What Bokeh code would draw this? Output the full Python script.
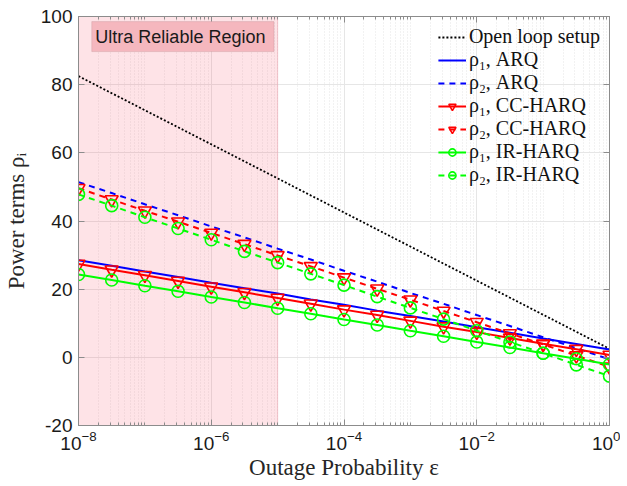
from bokeh.plotting import figure
from bokeh.models import (BoxAnnotation, Label, Legend, LegendItem, LogAxis,
                          LinearAxis, FixedTicker, Range1d)
from bokeh.embed import file_html
from bokeh.resources import INLINE

# ---- data ----
exponents = [-8, -7.5, -7, -6.5, -6, -5.5, -5, -4.5, -4, -3.5, -3, -2.5, -2, -1.5, -1, -0.5, 0]
eps = [10 ** e for e in exponents]

open_loop = [82.5, 77.5, 72.5, 67.5, 62.5, 57.5, 52.5, 47.5, 42.5, 37.5, 32.5, 27.5, 22.5, 17.5, 12.5, 7.5, 2.5]
rho1_arq = [28.5, 26.9, 25.2, 23.6, 21.9, 20.3, 18.7, 17.0, 15.4, 13.7, 12.1, 10.5, 8.8, 7.2, 5.5, 3.9, 2.3]
rho2_arq = [51.4, 48.2, 44.9, 41.7, 38.4, 35.2, 31.9, 28.7, 25.4, 22.2, 18.9, 15.7, 12.4, 9.2, 5.9, 2.7, -0.6]
rho1_cc = [27.4, 25.7, 24.1, 22.4, 20.7, 19.1, 17.4, 15.7, 14.0, 12.4, 10.7, 9.0, 7.4, 5.7, 4.0, 2.4, 0.7]
rho2_cc = [49.6, 46.3, 43.0, 39.8, 36.5, 33.2, 29.9, 26.7, 23.4, 20.1, 16.9, 13.6, 10.3, 7.0, 3.8, 0.5, -2.8]
rho1_ir = [24.3, 22.7, 21.0, 19.4, 17.7, 16.1, 14.4, 12.8, 11.1, 9.5, 7.8, 6.2, 4.5, 2.9, 1.2, -0.4, -2.1]
rho2_ir = [47.8, 44.5, 41.1, 37.8, 34.5, 31.1, 27.8, 24.5, 21.2, 17.8, 14.5, 11.2, 7.8, 4.5, 1.2, -2.2, -5.5]

major_x = [1e-8, 1e-6, 1e-4, 1e-2, 1.0]
y_ticks = [-20, 0, 20, 40, 60, 80, 100]
region_label = "Ultra Reliable Region"
x_label = "Outage Probability ε"
y_label = "Power terms ρᵢ"

minor_x = []
for n in range(-8, 0):
    for k in range(1, 10):
        v = k * 10.0 ** n
        if k == 1 and n % 2 == 0:
            continue
        minor_x.append(v)

SERIF = "Liberation Serif"
SANS = "Liberation Sans"
GRAY = "#8c8c8c"

p = figure(width=620, height=484, x_axis_type="log",
           x_range=Range1d(1e-8, 1.0), y_range=Range1d(-20, 100),
           output_backend="svg", toolbar_location=None,
           min_border_left=74, min_border_right=11, min_border_top=16, min_border_bottom=59)
p.background_fill_color = "white"
p.border_fill_color = "white"
p.outline_line_color = GRAY

xt = FixedTicker(ticks=major_x, minor_ticks=minor_x)
yt = FixedTicker(ticks=y_ticks)
p.xaxis.ticker = xt
p.yaxis.ticker = yt

for ax in [p.xaxis[0], p.yaxis[0]]:
    ax.axis_line_color = GRAY
    ax.major_tick_line_color = GRAY
    ax.minor_tick_line_color = GRAY
    ax.major_tick_in = 6
    ax.major_tick_out = 0
    ax.minor_tick_in = 3
    ax.minor_tick_out = 0
    ax.major_label_text_font = SANS
    ax.major_label_text_font_size = "19px"
    ax.major_label_text_color = "#1a1a1a"
    ax.axis_label_text_font = SERIF
    ax.axis_label_text_font_size = "23px"
    ax.axis_label_text_font_style = "normal"
    ax.axis_label_text_color = "#262626"
p.yaxis.minor_tick_line_color = None
p.yaxis.major_label_overrides = {-20: "-20"}
p.xaxis.axis_label = x_label
p.yaxis.axis_label = y_label
p.xaxis.major_label_standoff = 5
p.yaxis.major_label_standoff = 6
p.xaxis.axis_label_standoff = 2
p.yaxis.axis_label_standoff = 9

# top and right frame axes (ticks only)
top = LogAxis(ticker=xt, major_label_text_font_size="1px", major_label_text_alpha=0,
              axis_line_color=GRAY,
              major_tick_line_color=GRAY, minor_tick_line_color=GRAY,
              major_tick_in=6, major_tick_out=0, minor_tick_in=3, minor_tick_out=0,
              major_label_standoff=0)
right = LinearAxis(ticker=yt, major_label_text_font_size="1px", major_label_text_alpha=0,
                   axis_line_color=GRAY,
                   major_tick_line_color=GRAY, minor_tick_line_color=None,
                   major_tick_in=6, major_tick_out=0, major_label_standoff=0)
p.add_layout(top, "above")
p.add_layout(right, "right")

p.xgrid.grid_line_color = "#e6e6e6"
p.xgrid.minor_grid_line_color = "#e4e4e4"
p.xgrid.minor_grid_line_dash = "1 2"
p.ygrid.grid_line_color = "#e6e6e6"

# shaded ultra reliable region
p.add_layout(BoxAnnotation(left=1e-8, right=1e-5, fill_color="#f5455f", fill_alpha=0.15,
                           line_color="#e7a4ae", line_alpha=0.6, level="underlay"))
# label box
p.add_layout(BoxAnnotation(left=10 ** -7.8, right=10 ** -5.055, top=98.5, bottom=89.7,
                           fill_color="#f5b7be", fill_alpha=1.0,
                           line_color="#b98890", line_width=1))
p.add_layout(Label(x=10 ** -7.746, y=94.1, text=region_label, text_font=SANS,
                   text_font_size="18px", text_baseline="middle", text_align="left",
                   text_color="#1a1a1a"))

# series
r_ol = p.line(eps, open_loop, line_color="black", line_width=1.8, line_dash="2 2")
r_a1 = p.line(eps, rho1_arq, line_color="#0000ff", line_width=2)
r_a2 = p.line(eps, rho2_arq, line_color="#0000ff", line_width=2, line_dash="6 5")
r_c1 = p.line(eps, rho1_cc, line_color="#ff0000", line_width=2)
m_c1 = p.scatter(eps, rho1_cc, marker="inverted_triangle", size=13, fill_color=None,
                 line_color="#ff0000", line_width=1.6)
r_c2 = p.line(eps, rho2_cc, line_color="#ff0000", line_width=2, line_dash="6 5")
m_c2 = p.scatter(eps, rho2_cc, marker="inverted_triangle", size=13, fill_color=None,
                 line_color="#ff0000", line_width=1.6)
r_i1 = p.line(eps, rho1_ir, line_color="#00ff00", line_width=2)
m_i1 = p.scatter(eps, rho1_ir, marker="circle", size=12, fill_color=None,
                 line_color="#00ff00", line_width=1.6)
r_i2 = p.line(eps, rho2_ir, line_color="#00ff00", line_width=2, line_dash="6 5")
m_i2 = p.scatter(eps, rho2_ir, marker="circle", size=12, fill_color=None,
                 line_color="#00ff00", line_width=1.6)

legend = Legend(items=[
    LegendItem(label="Open loop setup", renderers=[r_ol]),
    LegendItem(label="ρ₁, ARQ", renderers=[r_a1]),
    LegendItem(label="ρ₂, ARQ", renderers=[r_a2]),
    LegendItem(label="ρ₁, CC-HARQ", renderers=[r_c1, m_c1]),
    LegendItem(label="ρ₂, CC-HARQ", renderers=[r_c2, m_c2]),
    LegendItem(label="ρ₁, IR-HARQ", renderers=[r_i1, m_i1]),
    LegendItem(label="ρ₂, IR-HARQ", renderers=[r_i2, m_i2]),
], location="top_right")
legend.background_fill_alpha = 0
legend.border_line_color = None
legend.label_text_font = SERIF
legend.label_text_font_size = "20px"
legend.label_text_color = "#111111"
legend.glyph_width = 28
legend.glyph_height = 18
legend.label_height = 20
legend.spacing = 0
legend.label_standoff = 3
legend.padding = 5
legend.margin = 9
p.add_layout(legend, "center")

open("out.html", "w").write(file_html(p, INLINE))
